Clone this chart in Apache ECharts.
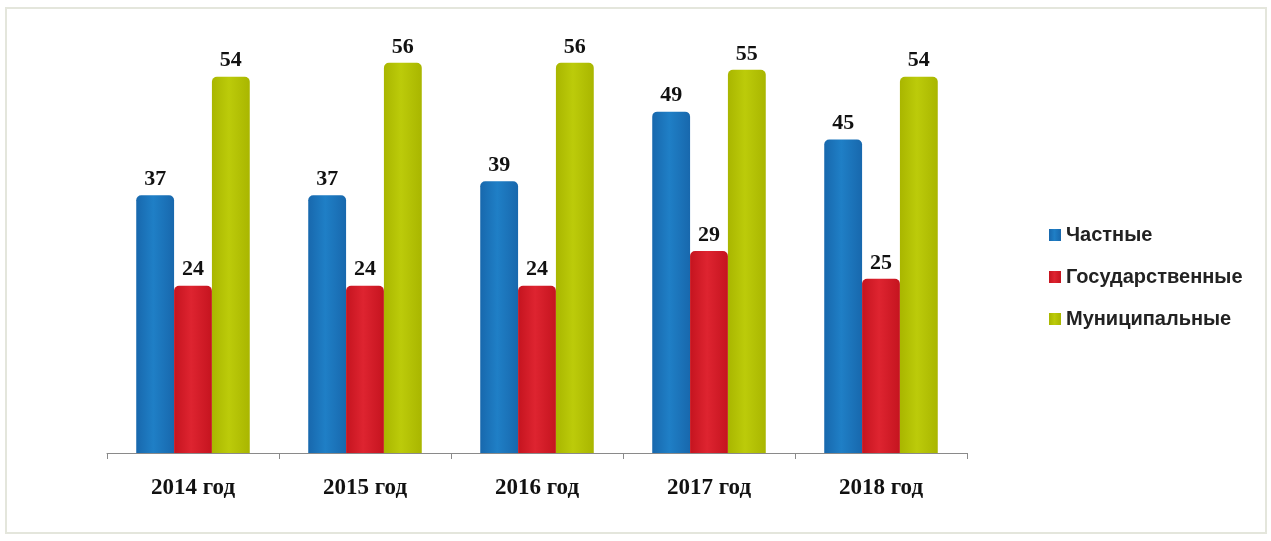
<!DOCTYPE html>
<html>
<head>
<meta charset="utf-8">
<script src="https://cdn.jsdelivr.net/npm/echarts@6/dist/echarts.min.js"></script>
<style>
  html, body { margin: 0; padding: 0; background: #fff; }
  #chart { width: 1271px; height: 541px; }
</style>
</head>
<body>
<div id="chart"></div>
<script>
var years = ["2014 год", "2015 год", "2016 год", "2017 год", "2018 год"];
var seriesNames = ["Частные", "Государственные", "Муниципальные"];
var privateVals = [37, 37, 39, 49, 45];
var stateVals = [24, 24, 24, 29, 25];
var municipalVals = [54, 56, 56, 55, 54];

function barGrad(edge, mid) {
  return new echarts.graphic.LinearGradient(0, 0, 1, 0, [
    { offset: 0, color: edge },
    { offset: 0.45, color: mid },
    { offset: 1, color: edge }
  ]);
}

var colors = [
  ["#1868ad", "#1f7fc6"],
  ["#c5141f", "#de2430"],
  ["#a9b600", "#bccb0a"]
];

var myChart = echarts.init(document.getElementById("chart"));
var valueLabel = {
  show: true,
  position: "top",
  distance: 5,
  color: "#111",
  fontFamily: "Liberation Serif",
  fontWeight: "bold",
  fontSize: 22
};

var option = {
  backgroundColor: "#fff",
  animation: false,
  graphic: [{
    type: "rect",
    shape: { x: 6, y: 8, width: 1260, height: 525 },
    style: { fill: "none", stroke: "#e4e6dc", lineWidth: 2 },
    silent: true
  }],
  legend: {
    orient: "vertical",
    left: 1044,
    top: 220,
    itemWidth: 12,
    itemHeight: 12,
    itemGap: 22,
    icon: "rect",
    data: seriesNames,
    textStyle: {
      fontFamily: "Liberation Sans",
      fontWeight: "bold",
      fontSize: 20,
      color: "#222"
    }
  },
  grid: {
    left: 107,
    right: 304,
    top: 35,
    bottom: 88
  },
  xAxis: {
    type: "category",
    data: years,
    axisLine: { lineStyle: { color: "#8a8a8a", width: 1 } },
    axisTick: { show: true, length: 6, lineStyle: { color: "#8a8a8a" } },
    axisLabel: {
      margin: 24,
      color: "#111",
      fontFamily: "Liberation Serif",
      fontWeight: "bold",
      fontSize: 23
    }
  },
  yAxis: {
    type: "value",
    min: 0,
    max: 60,
    show: false,
    splitLine: { show: false }
  },
  series: [
    {
      name: seriesNames[0],
      type: "bar",
      data: privateVals,
      barGap: "0%",
      barCategoryGap: "34%",
      itemStyle: { color: barGrad(colors[0][0], colors[0][1]), borderRadius: [5, 5, 0, 0] },
      label: valueLabel
    },
    {
      name: seriesNames[1],
      type: "bar",
      data: stateVals,
      itemStyle: { color: barGrad(colors[1][0], colors[1][1]), borderRadius: [5, 5, 0, 0] },
      label: valueLabel
    },
    {
      name: seriesNames[2],
      type: "bar",
      data: municipalVals,
      itemStyle: { color: barGrad(colors[2][0], colors[2][1]), borderRadius: [5, 5, 0, 0] },
      label: valueLabel
    }
  ],
  color: [colors[0][1], colors[1][1], colors[2][1]]
};

myChart.setOption(option);
window.addEventListener("resize", function () {
  myChart.resize();
});
</script>
</body>
</html>
